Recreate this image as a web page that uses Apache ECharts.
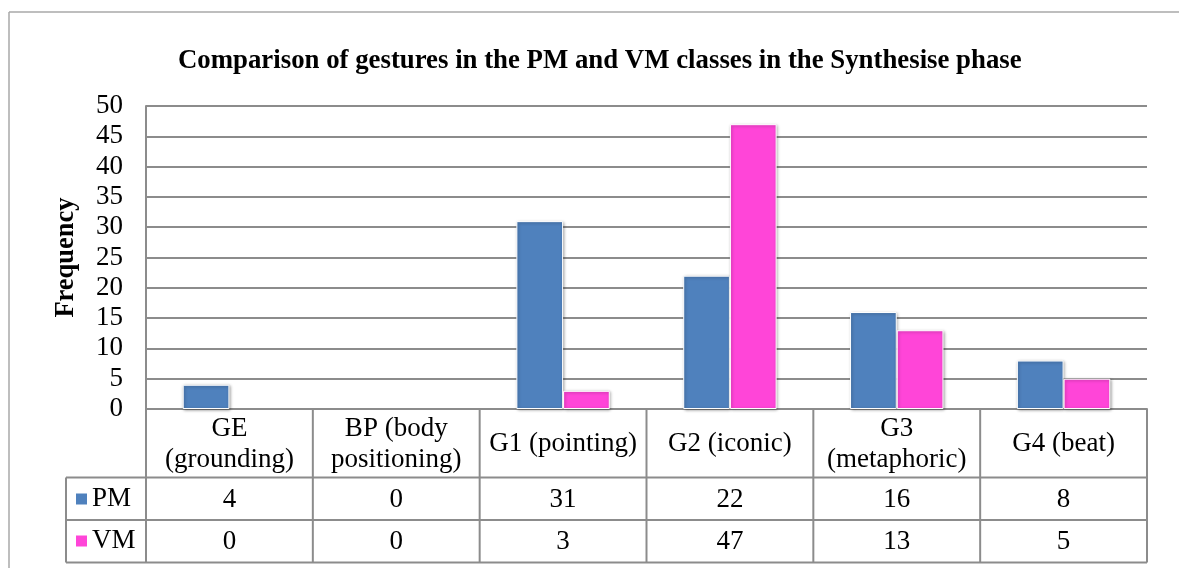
<!DOCTYPE html>
<html><head><meta charset="utf-8">
<script src="https://cdn.jsdelivr.net/npm/echarts@6/dist/echarts.min.js"></script>
<style>html,body{margin:0;padding:0;background:#fff}#c{width:1179px;height:568px}</style>
</head><body><div id="c"></div>
<script>
const categories = ['GE\n(grounding)', 'BP (body\npositioning)', 'G1 (pointing)', 'G2 (iconic)', 'G3\n(metaphoric)', 'G4 (beat)'];
const seriesNames = ['PM', 'VM'];
const pmValues = [4, 0, 31, 22, 16, 8];
const vmValues = [0, 0, 3, 47, 13, 5];
const yMin = 0, yMax = 50, yStep = 5;
const titleText = 'Comparison of gestures in the PM and VM classes in the Synthesise phase';
const yAxisName = 'Frequency';

const colors = ['#4F81BD', '#FF45D8'];
const FONT = '"Liberation Serif", "Times New Roman", serif';
const FS = 27;
const LINE = '#8c8c8c';
const seriesValues = [pmValues, vmValues];

const chart = echarts.init(document.getElementById('c'), null, {renderer: 'canvas'});

const option = {
  animation: false,
  backgroundColor: '#fff',
  title: {
    text: titleText, left: 178, top: 48, padding: 0,
    textStyle: {fontFamily: FONT, fontSize: 26.8, fontWeight: 'bold', color: '#000'}
  },
  legend: {
    data: seriesNames, orient: 'vertical', left: 76, top: 484, padding: 0,
    itemWidth: 11, itemHeight: 11, itemGap: 12, icon: 'rect',
    itemStyle: {borderWidth: 0, shadowBlur: 0},
    textStyle: {fontFamily: FONT, fontSize: FS, color: '#000', lineHeight: 30}
  },
  grid: {left: 146, right: 32, top: 106, bottom: 159},
  xAxis: {
    type: 'category', data: categories,
    axisLine: {lineStyle: {color: LINE, width: 2}},
    axisTick: {show: false},
    axisLabel: {interval: 0, margin: 35, verticalAlign: 'middle', lineHeight: 31,
      fontFamily: FONT, fontSize: FS, color: '#000'}
  },
  yAxis: {
    type: 'value', min: yMin, max: yMax, interval: yStep,
    name: yAxisName, nameLocation: 'middle', nameGap: 66, nameRotate: 90,
    nameTextStyle: {fontFamily: FONT, fontSize: 26.5, fontWeight: 'bold', color: '#000'},
    axisLine: {show: true, lineStyle: {color: LINE, width: 2}},
    axisTick: {show: false},
    splitLine: {lineStyle: {color: LINE, width: 2}},
    axisLabel: {margin: 23, fontFamily: FONT, fontSize: FS, color: '#000'}
  },
  series: seriesNames.map((n, i) => ({
    name: n, type: 'bar',
    data: seriesValues[i].map(v => v === 0
      ? {value: v, itemStyle: {borderWidth: 0, shadowBlur: 0, shadowOffsetX: 0, shadowOffsetY: 0, opacity: 0}}
      : v),
    barGap: '0%', barCategoryGap: '44%',
    itemStyle: {color: colors[i], borderColor: '#fff', borderWidth: 1,
      shadowBlur: 3, shadowColor: 'rgba(0,0,0,0.35)', shadowOffsetX: 1, shadowOffsetY: 1}
  }))
};
chart.setOption(option);

// data table under the axis, positioned from the library's scales
const c0 = chart.convertToPixel({xAxisIndex: 0}, 0);
const c1 = chart.convertToPixel({xAxisIndex: 0}, 1);
const band = c1 - c0;
const yZero = chart.convertToPixel({yAxisIndex: 0}, yMin);
const xLeft = c0 - band / 2;
const xRight = xLeft + band * categories.length;
const headerH = 68.5, rowH = 42.5;
const legendLeft = 66;
const rowTops = [yZero + headerH, yZero + headerH + rowH];
const tableBottom = yZero + headerH + 2 * rowH;

const g = [];
const ln = (x1, y1, x2, y2, color, w) => g.push({type: 'line', silent: true,
  shape: {x1, y1, x2, y2}, style: {stroke: color || LINE, lineWidth: w || 2}});

// outer chart frame
ln(9, 12, 1179, 12, '#a8a8a8', 1.5);
ln(9, 12, 9, 568, '#a8a8a8', 1.5);

// table lines
ln(xLeft, yZero, xLeft, tableBottom);
for (let i = 1; i <= categories.length; i++) {
  const x = xLeft + band * i;
  ln(x, yZero, x, tableBottom);
}
ln(legendLeft, rowTops[0], legendLeft, tableBottom);
ln(legendLeft, rowTops[0], xRight, rowTops[0]);
ln(legendLeft, rowTops[1], xRight, rowTops[1]);
ln(legendLeft, tableBottom, xRight, tableBottom);

// values
seriesValues.forEach((vals, r) => {
  vals.forEach((v, i) => {
    const cx = chart.convertToPixel({xAxisIndex: 0}, i);
    g.push({type: 'text', silent: true, x: cx, y: rowTops[r] + rowH / 2 + 1,
      style: {text: String(v), fontFamily: FONT, fontSize: FS, fill: '#000',
        textAlign: 'center', textVerticalAlign: 'middle'}});
  });
});
chart.setOption({graphic: g});
</script>
</body></html>
